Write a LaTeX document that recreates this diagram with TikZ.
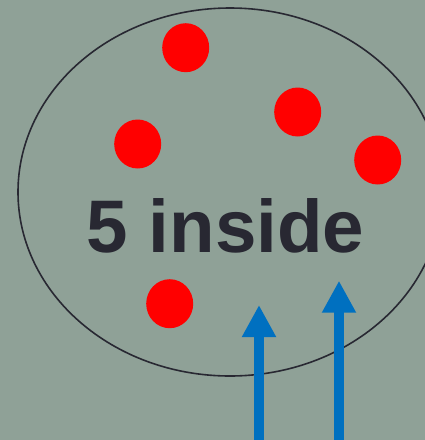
\documentclass[tikz,border=0pt]{standalone}
\usepackage{fontspec}
\setmainfont{Liberation Sans}
\usetikzlibrary{shapes.geometric,arrows.meta}
\definecolor{bgc}{RGB}{143,161,151}
\definecolor{inkc}{RGB}{40,40,50}
\definecolor{dotc}{RGB}{255,0,0}
\definecolor{arrc}{RGB}{0,112,192}
\tikzset{
  dot/.style={ellipse,fill=dotc,draw=none,minimum width=47pt,minimum height=49pt,inner sep=0pt},
  ring/.style={ellipse,draw=inkc,line width=1.6pt,minimum width=424pt,minimum height=368pt,inner sep=0pt},
  uparrow/.style={draw=arrc,line width=10pt,-{Triangle[length=32pt,width=32pt]}},
  label/.style={font=\fontsize{74.5}{74.5}\selectfont\bfseries,text=inkc,inner sep=0pt,anchor=base}
}
\begin{document}
\begin{tikzpicture}[x=1pt,y=-1pt]
\fill[bgc] (0,0) rectangle (425,440);
\useasboundingbox (0,0) rectangle (425,440);
\node[ring] (ring) at (230,192) {};
\node[dot] (d1) at (185.7,47.7) {};
\node[dot] (d2) at (297.7,112) {};
\node[dot] (d3) at (137.7,144) {};
\node[dot] (d4) at (377.7,160) {};
\node[dot] (d5) at (169.7,303.7) {};
\node[label] (txt) at (225.5,252) {5 inside};
\coordinate (a1s) at (259,445);
\coordinate (a1e) at (259,305);
\coordinate (a2s) at (339,445);
\coordinate (a2e) at (339,280.7);
\draw[uparrow] (a1s) -- (a1e);
\draw[uparrow] (a2s) -- (a2e);
\end{tikzpicture}
\end{document}
